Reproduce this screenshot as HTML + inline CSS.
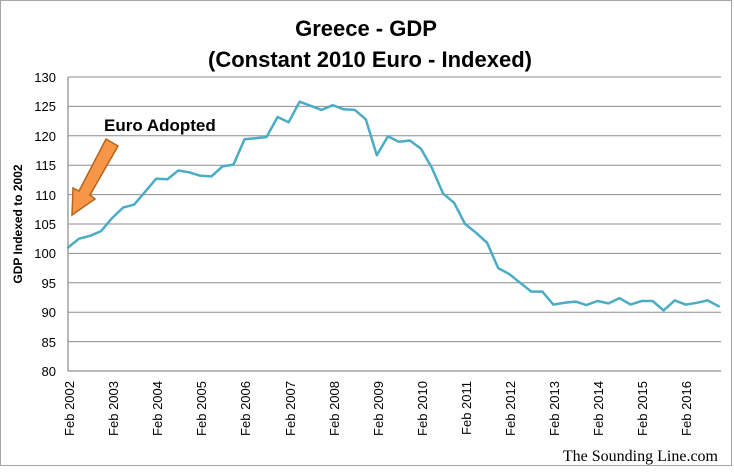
<!DOCTYPE html>
<html><head><meta charset="utf-8"><style>
body{margin:0;background:#fff;}
svg{display:block;font-family:"Liberation Sans",sans-serif;}
</style></head><body>
<svg width="734" height="475" viewBox="0 0 734 475">
<rect x="0.5" y="0.5" width="731" height="465" fill="#fff" stroke="#a6a6a6"/>
<text x="366" y="36" text-anchor="middle" font-size="22" font-weight="bold">Greece -  GDP</text>
<text x="370" y="67" text-anchor="middle" font-size="22" font-weight="bold">(Constant 2010 Euro - Indexed)</text>
<g stroke="#8c8c8c" stroke-width="1">
<line x1="68" y1="77" x2="721" y2="77"/>
<line x1="68" y1="106.4" x2="721" y2="106.4"/>
<line x1="68" y1="135.8" x2="721" y2="135.8"/>
<line x1="68" y1="165.2" x2="721" y2="165.2"/>
<line x1="68" y1="194.6" x2="721" y2="194.6"/>
<line x1="68" y1="224" x2="721" y2="224"/>
<line x1="68" y1="253.4" x2="721" y2="253.4"/>
<line x1="68" y1="282.8" x2="721" y2="282.8"/>
<line x1="68" y1="312.2" x2="721" y2="312.2"/>
<line x1="68" y1="341.6" x2="721" y2="341.6"/>
<line x1="68" y1="371" x2="721" y2="371" stroke="#a0a0a0" stroke-width="1.5"/>
<line x1="68" y1="77" x2="68" y2="371" stroke="#a0a0a0" stroke-width="1.5"/>
</g>
<g font-size="13" text-anchor="end" fill="#000">
<text x="56" y="82">130</text><text x="56" y="111">125</text><text x="56" y="141">120</text>
<text x="56" y="170">115</text><text x="56" y="200">110</text><text x="56" y="229">105</text>
<text x="56" y="258">100</text><text x="56" y="288">95</text><text x="56" y="317">90</text>
<text x="56" y="347">85</text><text x="56" y="376">80</text>
</g>
<text transform="translate(22,224) rotate(-90)" text-anchor="middle" font-size="12" font-weight="bold">GDP Indexed to 2002</text>
<g font-size="13" text-anchor="end">
<text transform="translate(74,381) rotate(-90)">Feb 2002</text>
<text transform="translate(118,381) rotate(-90)">Feb 2003</text>
<text transform="translate(162,381) rotate(-90)">Feb 2004</text>
<text transform="translate(206,381) rotate(-90)">Feb 2005</text>
<text transform="translate(250,381) rotate(-90)">Feb 2006</text>
<text transform="translate(295,381) rotate(-90)">Feb 2007</text>
<text transform="translate(339,381) rotate(-90)">Feb 2008</text>
<text transform="translate(383,381) rotate(-90)">Feb 2009</text>
<text transform="translate(427,381) rotate(-90)">Feb 2010</text>
<text transform="translate(471,381) rotate(-90)">Feb 2011</text>
<text transform="translate(515,381) rotate(-90)">Feb 2012</text>
<text transform="translate(559,381) rotate(-90)">Feb 2013</text>
<text transform="translate(603,381) rotate(-90)">Feb 2014</text>
<text transform="translate(647,381) rotate(-90)">Feb 2015</text>
<text transform="translate(691,381) rotate(-90)">Feb 2016</text>
</g>
<text x="718" y="461" text-anchor="end" font-family="Liberation Serif,serif" font-size="16">The Sounding Line.com</text>
<text x="104" y="131" font-size="17" font-weight="bold">Euro Adopted</text>
<polygon points="106,139 118,146 90,195 95,199 72,215 73,188 79,191" fill="#f79646" stroke="#b5651d" stroke-width="1.5"/>
<polyline fill="none" stroke="#4bacc6" stroke-width="2.5" stroke-linejoin="round" stroke-linecap="round" points="68.0,247.5 79.0,238.7 90.1,235.8 101.1,231.1 112.1,218.1 123.2,207.5 134.2,204.6 145.2,191.7 156.2,178.7 167.3,179.3 178.3,170.5 189.3,172.3 200.4,175.8 211.4,176.4 222.4,166.4 233.5,164.6 244.5,139.3 255.5,138.2 266.5,137.0 277.6,117.0 288.6,122.3 299.6,101.7 310.7,105.8 321.7,109.9 332.7,105.2 343.8,109.3 354.8,109.9 365.8,119.3 376.8,155.2 387.9,136.4 398.9,141.7 409.9,140.5 421.0,148.7 432.0,168.1 443.0,193.4 454.1,202.8 465.1,224.0 476.1,232.8 487.1,242.8 498.2,268.1 509.2,274.0 520.2,282.8 531.3,291.6 542.3,291.6 553.3,304.6 564.4,302.8 575.4,301.6 586.4,305.1 597.4,301.0 608.5,303.4 619.5,298.1 630.5,304.6 641.6,301.0 652.6,301.0 663.6,310.4 674.7,300.4 685.7,304.6 696.7,302.8 707.7,300.4 718.8,306.3"/>
</svg>
</body></html>
